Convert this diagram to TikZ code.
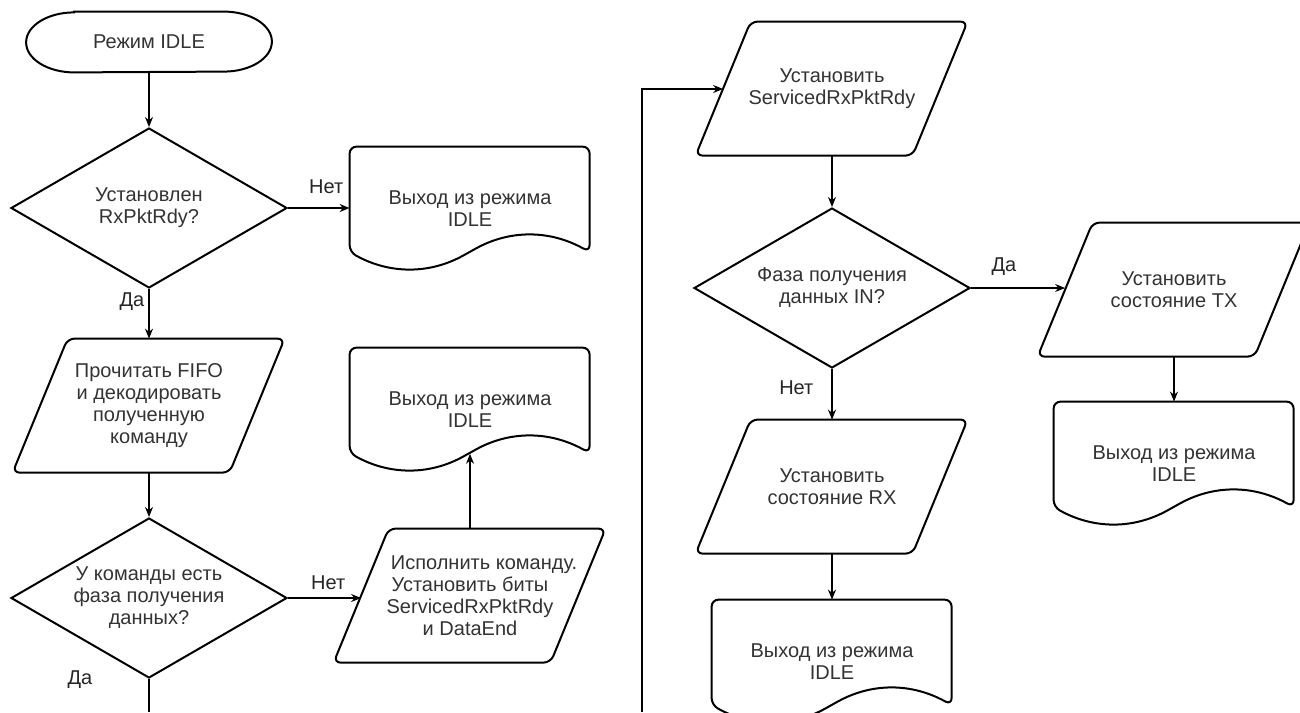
\documentclass[tikz,border=0pt]{standalone}
\usepackage{fontspec}
\setmainfont{Liberation Sans}
\usetikzlibrary{positioning, arrows.meta, shapes.geometric}
\tikzset{>={Stealth[length=5pt, width=4pt]}}

\begin{document}
\begin{tikzpicture}[
    x=0.5pt, y=-0.5pt,
    font=\fontsize{10}{11}\selectfont,
    text=black!80,
    outline/.style={draw=black, line width=1pt},
    term/.style={minimum width=122.5pt, minimum height=30pt,
                 inner sep=0pt, align=center},
    decision/.style={outline, diamond, aspect=1.72, align=center,
                     inner sep=0pt, minimum width=138pt, minimum height=80pt},
    io/.style={minimum width=136pt, minimum height=67pt,
               inner sep=0pt, align=center},
    doc/.style={minimum width=120pt, minimum height=62pt,
                inner sep=0pt, align=center},
    flow/.style={->, line width=0.65pt, black},
    lbl/.style={inner sep=1pt, text=black!85},
  ]
  \useasboundingbox[fill=white] (0,0) rectangle (1300,712);
  \clip (0,0) rectangle (1300,712);

  % left column
  \node[term] (start) at (149,42) {Режим IDLE};
  \node[decision] (dec1) at (149,208) {Установлен\\RxPktRdy?};
  \node[doc] (exit1) at (470,209) {Выход из режима\\IDLE};
  \node[io] (read) at (149,406) {Прочитать FIFO\\и декодировать\\полученную\\команду};
  \node[decision] (dec2) at (149,598) {У команды есть\\фаза получения\\данных?};
  \node[io] (exec) at (470,596) {\hspace*{14pt}Исполнить команду.\\Установить биты\\ServicedRxPktRdy\\и DataEnd};
  \node[doc] (exit2) at (470,410) {Выход из режима\\IDLE};
  \coordinate (cutL) at (149,712);

  % right column
  \coordinate (cutR) at (642,712);
  \node[io] (setsrv) at (832,89) {Установить\\ServicedRxPktRdy};
  \node[decision] (dec3) at (832,288) {Фаза получения\\данных IN?};
  \node[io] (settx) at (1174,290) {Установить\\состояние TX};
  \node[doc] (exit3) at (1174,464) {Выход из режима\\IDLE};
  \node[io] (setrx) at (832,487) {Установить\\состояние RX};
  \node[doc] (exit4) at (832,662) {Выход из режима\\IDLE};

  % entry points on the slanted sides
  \coordinate (execin) at ([xshift=13.75pt]exec.west);
  \coordinate (srvin) at ([xshift=13.75pt]setsrv.west);
  \coordinate (txin) at ([xshift=13.75pt]settx.west);

  % terminator, parallelogram and document outlines
  \draw[outline] ([xshift=24pt]start.north west) -- ([xshift=-24pt]start.north east)
    arc[start angle=90, end angle=-90, x radius=24pt, y radius=15pt]
    -- ([xshift=24pt]start.south west)
    arc[start angle=270, end angle=90, x radius=24pt, y radius=15pt] -- cycle;
  \foreach \n in {read, exec, setsrv, settx, setrx} {
    \begin{scope}[shift={(\n.north west)}, x=1pt, y=-1pt]
      \draw[outline, rounded corners=3.5pt] (80,0) -- (136,0) -- (108.5,67)
        -- (0,67) -- (27.5,0) -- cycle;
    \end{scope}
  }
  \foreach \n in {exit1, exit2, exit3, exit4} {
    \begin{scope}[shift={(\n.north west)}, x=120pt, y=-62pt]
      \draw[outline, rounded corners=3.5pt] (0.5,0) -- (1,0) -- (1,0.85)
        .. controls (0.833,0.67) and (0.667,0.67) .. (0.5,0.85)
        .. controls (0.333,1.03) and (0.167,1.03) .. (0,0.85) -- (0,0) -- cycle;
    \end{scope}
  }

  \draw[flow] (start) -- (dec1);
  \draw[flow] (dec1.east) -- node[lbl, above=6pt, pos=0.62] {Нет} (dec1.east -| exit1.west);
  \draw[flow] (dec1) -- node[lbl, left=1pt, pos=0.25] {Да} (read);
  \draw[flow] (read) -- (dec2);
  \draw[flow] (dec2.east) -- node[lbl, above=3pt, pos=0.55] {Нет} (dec2.east -| execin);
  \draw[flow] (exec) -- ([yshift=9.3pt]exit2.south);
  \draw[line width=0.65pt] (dec2) -- node[lbl, left=27pt, pos=0.02] {Да} (cutL);

  \draw[flow] (cutR) |- (srvin);
  \draw[flow] (setsrv) -- (dec3);
  \draw[flow] (dec3.east) -- node[lbl, above=5pt, pos=0.35] {Да} (dec3.east -| txin);
  \draw[flow] (dec3) -- node[lbl, left=8pt, pos=0.37] {Нет} (setrx);
  \draw[flow] (setrx) -- (exit4);
  \draw[flow] (settx) -- (exit3);
\end{tikzpicture}
\end{document}
